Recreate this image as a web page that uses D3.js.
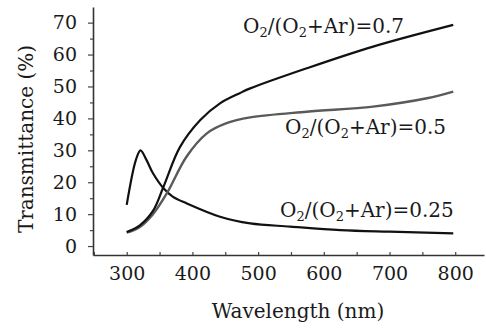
<!DOCTYPE html>
<html>
<head>
    <script src="https://d3js.org/d3.v7.min.js"></script>
    <style>
        body { margin: 0; background: #fff; overflow: hidden; }
        text { font-family: "DejaVu Serif", serif; fill: #1a1a1a; }
    </style>
</head>
<body>
<script>
    // wavelength (nm) / transmittance (%)
    var wl025 = [300, 314, 321, 330, 340, 356, 370, 391, 442, 488, 549, 625, 700, 797];
    var tr025 = [12.9, 27, 30, 27, 22.8, 18.1, 15.5, 13.4, 9.2, 7.1, 6.1, 5.0, 4.5, 4.0];

    var wl05 = [300, 320, 340, 361, 391, 422, 452, 488, 574, 675, 757, 797];
    var tr05 = [4.2, 6, 10, 16.5, 28, 35.3, 38.5, 40.3, 42.1, 43.7, 46.3, 48.4];

    var wl07 = [300, 320, 340, 356, 381, 412, 442, 472, 488, 574, 675, 797];
    var tr07 = [4.4, 6.5, 11, 18.6, 31, 39.5, 44.7, 47.9, 49.4, 55.7, 62.5, 69.3];

    var xTicks = [300, 400, 500, 600, 700, 800];
    var yTicks = [0, 10, 20, 30, 40, 50, 60, 70];
    var labels = ["0.25", "0.5", "0.7"];

    var W = 486, H = 333;
    var svg = d3.select("body").append("svg")
        .attr("width", W)
        .attr("height", H);

    var x = d3.scaleLinear().domain([248.7, 843.8]).range([93, 484]);
    var y = d3.scaleLinear().domain([-2.8, 74.9]).range([255, 7]);

    // axes
    var xAxis = d3.axisBottom(x)
        .tickValues(d3.range(250, 850, 50))
        .tickSizeInner(-3).tickSizeOuter(0)
        .tickFormat(function(d) { return xTicks.indexOf(d) >= 0 ? d : ""; })
        .tickPadding(12);
    var gx = svg.append("g").attr("transform", "translate(0,255)").call(xAxis);

    var yAxis = d3.axisLeft(y)
        .tickValues(d3.range(0, 75, 5))
        .tickSizeInner(5).tickSizeOuter(0)
        .tickFormat(function(d) { return yTicks.indexOf(d) >= 0 ? d : ""; })
        .tickPadding(11);
    var gy = svg.append("g").attr("transform", "translate(93,0)").call(yAxis);

    gy.selectAll(".tick line").attr("x2", function(d) { return d % 10 === 0 ? -5 : -3; });
    [gx, gy].forEach(function(g) {
        g.select(".domain").attr("stroke", "#333").attr("stroke-width", 1.6);
        g.selectAll(".tick line").attr("stroke", "#444").attr("stroke-width", 1.2);
        g.selectAll(".tick text").style("font-family", "DejaVu Serif").style("font-size", "19px").attr("fill", "#222");
    });

    svg.append("text")
        .attr("x", 298).attr("y", 318)
        .attr("text-anchor", "middle")
        .style("font-size", "20px")
        .text("Wavelength (nm)");

    svg.append("text")
        .attr("transform", "translate(33,139) rotate(-90)")
        .attr("text-anchor", "middle")
        .style("font-size", "20px")
        .text("Transmittance (%)");

    // curves
    var line = d3.line()
        .x(function(d) { return x(d[0]); })
        .y(function(d) { return y(d[1]); })
        .curve(d3.curveCatmullRom.alpha(0.5));

    var series = [
        { w: wl025, t: tr025, color: "#111", width: 2.2 },
        { w: wl05, t: tr05, color: "#5a5a5a", width: 2.4 },
        { w: wl07, t: tr07, color: "#111", width: 2.2 }
    ];
    series.forEach(function(s) {
        svg.append("path")
            .datum(d3.zip(s.w, s.t))
            .attr("fill", "none")
            .attr("stroke", s.color)
            .attr("stroke-width", s.width)
            .attr("d", line);
    });

    // curve labels
    var labelPos = [[280, 217], [285, 134], [243, 33]];
    labels.forEach(function(v, i) {
        var t = svg.append("text")
            .attr("x", labelPos[i][0]).attr("y", labelPos[i][1])
            .style("font-size", "20px");
        t.append("tspan").text("O");
        t.append("tspan").attr("dy", 4).style("font-size", "13px").text("2");
        t.append("tspan").attr("dy", -4).text("/(O");
        t.append("tspan").attr("dy", 4).style("font-size", "13px").text("2");
        t.append("tspan").attr("dy", -4).text("+Ar)=" + v);
    });
</script>
</body>
</html>
